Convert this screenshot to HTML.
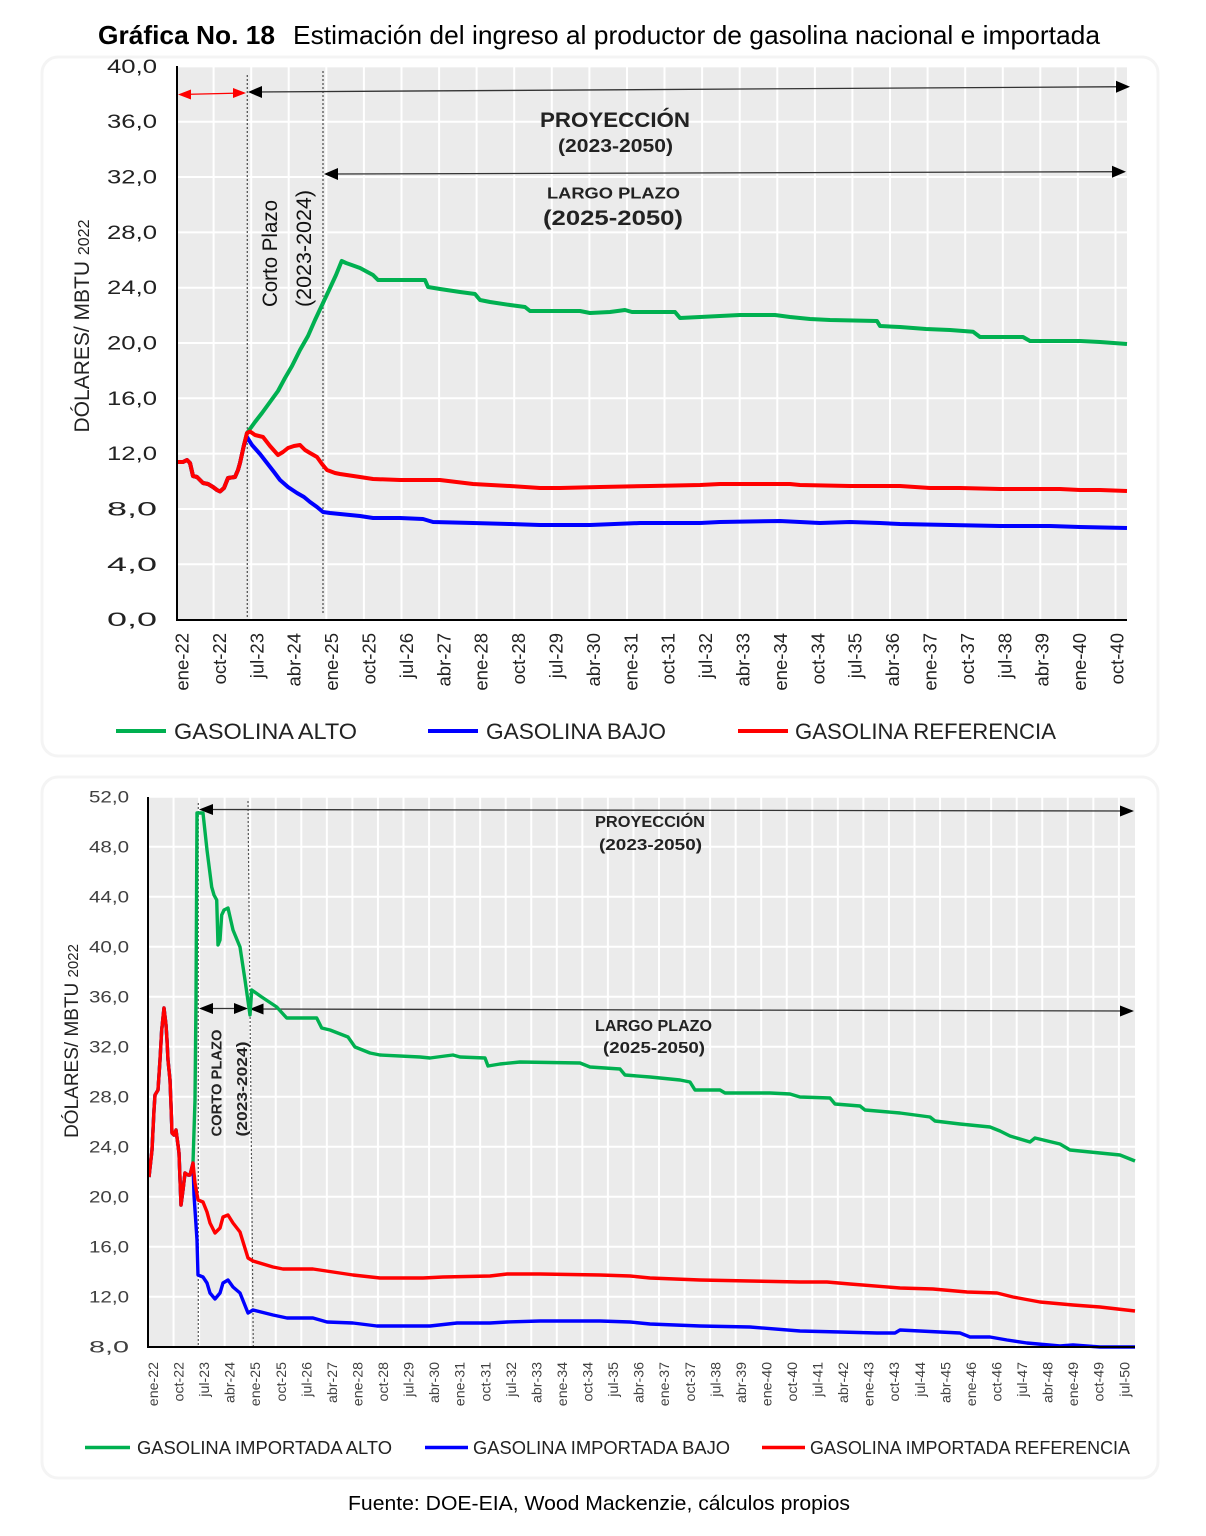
<!DOCTYPE html>
<html><head><meta charset="utf-8"><style>
html,body{margin:0;padding:0;background:#fff;}
svg{display:block;}
text{font-family:"Liberation Sans",Arial,sans-serif;}
</style></head><body>
<svg width="1206" height="1536" viewBox="0 0 1206 1536" xmlns="http://www.w3.org/2000/svg">
<rect width="1206" height="1536" fill="#fff"/>
<!-- Title -->
<text x="98" y="44" font-size="26" font-weight="bold" fill="#000" textLength="177" lengthAdjust="spacingAndGlyphs">Gráfica No. 18</text>
<text x="293" y="44" font-size="26" fill="#000" textLength="807" lengthAdjust="spacingAndGlyphs">Estimación del ingreso al productor de gasolina nacional e importada</text>

<!-- Frames -->
<rect x="42" y="57" width="1116" height="699" rx="16" fill="#fff" stroke="#f4f4f4" stroke-width="3"/>
<rect x="42" y="777" width="1116" height="701" rx="16" fill="#fff" stroke="#f4f4f4" stroke-width="3"/>

<!-- ================= TOP CHART ================= -->
<rect x="177" y="66" width="950" height="554" fill="#ebebeb"/>
<path d="M177 564.3H1127M177 509H1127M177 453.6H1127M177 398.3H1127M177 343H1127M177 287.7H1127M177 232.4H1127M177 177H1127M177 121.7H1127M177 66.4H1127" stroke="#fff" stroke-width="2"/>
<path d="M213.6 66V620M251.2 66V620M288.7 66V620M326.3 66V620M363.9 66V620M401.5 66V620M439.1 66V620M476.6 66V620M514.2 66V620M551.8 66V620M589.4 66V620M627 66V620M664.5 66V620M702.1 66V620M739.7 66V620M777.3 66V620M814.9 66V620M852.4 66V620M890 66V620M927.6 66V620M965.2 66V620M1002.8 66V620M1040.3 66V620M1077.9 66V620M1115.5 66V620" stroke="#fff" stroke-width="2"/>

<!-- dotted lines -->
<line x1="247.3" y1="75" x2="247.3" y2="618" stroke="#555" stroke-width="1.3" stroke-dasharray="2,2"/>
<line x1="323" y1="71" x2="323" y2="613" stroke="#555" stroke-width="1.3" stroke-dasharray="2,2"/>

<!-- arrows -->
<line x1="180" y1="94.5" x2="244" y2="93" stroke="#ff0000" stroke-width="1.3"/>
<polygon points="178,94.5 191,89.5 191,99.5" fill="#ff0000"/>
<polygon points="246,93 233,88 233,98" fill="#ff0000"/>
<line x1="250" y1="92" x2="1128" y2="86.7" stroke="#333" stroke-width="1.3"/>
<polygon points="248,92 262,86 262,98" fill="#000"/>
<polygon points="1130,86.7 1116,80.7 1116,92.7" fill="#000"/>
<line x1="326" y1="174" x2="1124" y2="171.7" stroke="#333" stroke-width="1.3"/>
<polygon points="324,174 338,168 338,180" fill="#000"/>
<polygon points="1126,171.7 1112,165.7 1112,177.7" fill="#000"/>

<!-- annotation text -->
<text x="615" y="127" font-size="21" font-weight="bold" fill="#222" text-anchor="middle" textLength="150" lengthAdjust="spacingAndGlyphs">PROYECCIÓN</text>
<text x="615.5" y="152" font-size="18" font-weight="bold" fill="#222" text-anchor="middle" textLength="115" lengthAdjust="spacingAndGlyphs">(2023-2050)</text>
<text x="613.5" y="198.5" font-size="16" font-weight="bold" fill="#222" text-anchor="middle" textLength="133" lengthAdjust="spacingAndGlyphs">LARGO PLAZO</text>
<text x="613" y="225" font-size="21" font-weight="bold" fill="#222" text-anchor="middle" textLength="140" lengthAdjust="spacingAndGlyphs">(2025-2050)</text>
<text transform="translate(277,253.5) rotate(-90)" font-size="21" fill="#111" text-anchor="middle" textLength="107" lengthAdjust="spacingAndGlyphs">Corto Plazo</text>
<text transform="translate(311,248.5) rotate(-90)" font-size="21" fill="#111" text-anchor="middle" textLength="117" lengthAdjust="spacingAndGlyphs">(2023-2024)</text>

<!-- series -->
<polyline fill="none" stroke="#00b050" stroke-width="4" stroke-linejoin="round" points="177,462 183,462 187,460 190,463 193,476 197,477 200,480 203,483 208,484 213,487 217,490 220,491.5 224,488 228,478 235,477 238,470 240,463 244,445 247,433 255,422 262,413 270,402 278,391 285,378 292,366 300,350 308,336 315,320 323,303 330,288 336,275 341.7,261 346,263 351.7,265 360,268 373,275 378,280 425,280 428,287 440,289 460,292 475,294 480,300 490,302 510,305 525,307 530,311 580,311 590,313 610,312 625,310 632,312 675,312 680,318 700,317 740,315 775,315 790,317 810,319 830,320 877,321 880,326 900,327 926,329 950,330 973,331.7 980,337 1023,337 1030,341 1080,341 1100,342 1127,344"/>
<polyline fill="none" stroke="#0000ff" stroke-width="4" stroke-linejoin="round" points="177,462 183,462 187,460 190,463 193,476 197,477 200,480 203,483 208,484 213,487 217,490 220,491.5 224,488 228,478 235,477 238,470 240,463 244,445 247,437 252,445 260,454 267,463 274,472 280,480 288,487 297,493 304,497 310,502 317,507 323,512 330,513 340,514 360,516 373,518 400,518 423,519 433,522 473,523 510,524 540,525 590,525 640,523 700,523 720,522 780,521 800,522 820,523 850,522 880,523 900,524 950,525 1000,526 1050,526 1080,527 1127,528"/>
<polyline fill="none" stroke="#ff0000" stroke-width="4" stroke-linejoin="round" points="177,462 183,462 187,460 190,463 193,476 197,477 200,480 203,483 208,484 213,487 217,490 220,491.5 224,488 228,478 235,477 238,470 240,463 244,445 247,433 250,431.5 255,435 263,437 270,446 278,455 283,452 288,448 294,446 300,445 305,450 310,453 317,457 322,464 327,470 335,473 340,474 360,477 373,479 400,480 440,480 473,484 510,486 540,488 560,488 600,487 650,486 700,485 720,484 790,484 800,485 850,486 900,486 930,488 960,488 1000,489 1060,489 1080,490 1100,490 1127,491"/>

<!-- axes -->
<line x1="177" y1="66" x2="177" y2="621" stroke="#000" stroke-width="2"/>
<line x1="176" y1="620" x2="1127" y2="620" stroke="#000" stroke-width="2"/>

<!-- y ticks -->
<g font-size="19" fill="#222" text-anchor="end">
<text x="157" y="626" textLength="50" lengthAdjust="spacingAndGlyphs">0,0</text>
<text x="157" y="570.8" textLength="50" lengthAdjust="spacingAndGlyphs">4,0</text>
<text x="157" y="515.5" textLength="50" lengthAdjust="spacingAndGlyphs">8,0</text>
<text x="157" y="460.1" textLength="50" lengthAdjust="spacingAndGlyphs">12,0</text>
<text x="157" y="404.8" textLength="50" lengthAdjust="spacingAndGlyphs">16,0</text>
<text x="157" y="349.5" textLength="50" lengthAdjust="spacingAndGlyphs">20,0</text>
<text x="157" y="294.2" textLength="50" lengthAdjust="spacingAndGlyphs">24,0</text>
<text x="157" y="238.9" textLength="50" lengthAdjust="spacingAndGlyphs">28,0</text>
<text x="157" y="183.5" textLength="50" lengthAdjust="spacingAndGlyphs">32,0</text>
<text x="157" y="128.2" textLength="50" lengthAdjust="spacingAndGlyphs">36,0</text>
<text x="157" y="72.9" textLength="50" lengthAdjust="spacingAndGlyphs">40,0</text>
</g>
<text x="0" y="0" transform="translate(89,326) rotate(-90)" font-size="21" fill="#222" text-anchor="middle">DÓLARES/ MBTU <tspan font-size="16">2022</tspan></text>

<!-- x ticks -->
<g font-size="18.5" fill="#222" text-anchor="end">
<text transform="translate(188.5,633) rotate(-90)">ene-22</text>
<text transform="translate(225.9,633) rotate(-90)">oct-22</text>
<text transform="translate(263.3,633) rotate(-90)">jul-23</text>
<text transform="translate(300.7,633) rotate(-90)">abr-24</text>
<text transform="translate(338.1,633) rotate(-90)">ene-25</text>
<text transform="translate(375.5,633) rotate(-90)">oct-25</text>
<text transform="translate(412.9,633) rotate(-90)">jul-26</text>
<text transform="translate(450.3,633) rotate(-90)">abr-27</text>
<text transform="translate(487.7,633) rotate(-90)">ene-28</text>
<text transform="translate(525.1,633) rotate(-90)">oct-28</text>
<text transform="translate(562.5,633) rotate(-90)">jul-29</text>
<text transform="translate(599.9,633) rotate(-90)">abr-30</text>
<text transform="translate(637.3,633) rotate(-90)">ene-31</text>
<text transform="translate(674.7,633) rotate(-90)">oct-31</text>
<text transform="translate(712.1,633) rotate(-90)">jul-32</text>
<text transform="translate(749.5,633) rotate(-90)">abr-33</text>
<text transform="translate(786.9,633) rotate(-90)">ene-34</text>
<text transform="translate(824.3,633) rotate(-90)">oct-34</text>
<text transform="translate(861.7,633) rotate(-90)">jul-35</text>
<text transform="translate(899.1,633) rotate(-90)">abr-36</text>
<text transform="translate(936.5,633) rotate(-90)">ene-37</text>
<text transform="translate(973.9,633) rotate(-90)">oct-37</text>
<text transform="translate(1011.3,633) rotate(-90)">jul-38</text>
<text transform="translate(1048.7,633) rotate(-90)">abr-39</text>
<text transform="translate(1086.1,633) rotate(-90)">ene-40</text>
<text transform="translate(1123.5,633) rotate(-90)">oct-40</text>
</g>

<!-- legend top -->
<line x1="116" y1="731" x2="166" y2="731" stroke="#00b050" stroke-width="4"/>
<text x="174" y="739" font-size="22" fill="#222" textLength="183" lengthAdjust="spacingAndGlyphs">GASOLINA ALTO</text>
<line x1="428" y1="731" x2="478" y2="731" stroke="#0000ff" stroke-width="4"/>
<text x="486" y="739" font-size="22" fill="#222" textLength="180" lengthAdjust="spacingAndGlyphs">GASOLINA BAJO</text>
<line x1="738" y1="731" x2="788" y2="731" stroke="#ff0000" stroke-width="4"/>
<text x="795" y="739" font-size="22" fill="#222" textLength="261" lengthAdjust="spacingAndGlyphs">GASOLINA REFERENCIA</text>

<!-- ================= BOTTOM CHART ================= -->
<rect x="148" y="797" width="987" height="550" fill="#ebebeb"/>
<path d="M148 1296.7H1135M148 1246.7H1135M148 1196.7H1135M148 1146.7H1135M148 1096.7H1135M148 1046.7H1135M148 996.7H1135M148 946.7H1135M148 896.7H1135M148 846.7H1135M148 796.7H1135" stroke="#fff" stroke-width="2"/>
<path d="M173.55 797V1347M199.1 797V1347M224.65 797V1347M250.2 797V1347M275.75 797V1347M301.3 797V1347M326.85 797V1347M352.4 797V1347M377.95 797V1347M403.5 797V1347M429.05 797V1347M454.6 797V1347M480.15 797V1347M505.7 797V1347M531.25 797V1347M556.8 797V1347M582.35 797V1347M607.9 797V1347M633.45 797V1347M659 797V1347M684.55 797V1347M710.1 797V1347M735.65 797V1347M761.2 797V1347M786.75 797V1347M812.3 797V1347M837.85 797V1347M863.4 797V1347M888.95 797V1347M914.5 797V1347M940.05 797V1347M965.6 797V1347M991.15 797V1347M1016.7 797V1347M1042.25 797V1347M1067.8 797V1347M1093.35 797V1347M1118.9 797V1347" stroke="#fff" stroke-width="2"/>

<line x1="198.3" y1="803" x2="198.3" y2="1347" stroke="#555" stroke-width="1.2" stroke-dasharray="2,2"/>
<line x1="248" y1="801" x2="253.3" y2="1347" stroke="#555" stroke-width="1.2" stroke-dasharray="2,2"/>

<!-- arrows bottom -->
<line x1="201" y1="809.5" x2="1131" y2="811" stroke="#333" stroke-width="1.3"/>
<polygon points="199,809.5 213,804 213,815" fill="#000"/>
<polygon points="1134,811 1120,805.5 1120,816.5" fill="#000"/>
<line x1="201" y1="1008.5" x2="246" y2="1008.5" stroke="#333" stroke-width="1.3"/>
<polygon points="199,1008.5 213,1003 213,1014" fill="#000"/>
<polygon points="248,1008.5 234,1003 234,1014" fill="#000"/>
<line x1="251" y1="1009" x2="1131" y2="1011" stroke="#333" stroke-width="1.3"/>
<polygon points="249.5,1009 263.5,1003.5 263.5,1014.5" fill="#000"/>
<polygon points="1134,1011 1120,1005.5 1120,1016.5" fill="#000"/>

<text x="650" y="827" font-size="16" font-weight="bold" fill="#222" text-anchor="middle" textLength="110" lengthAdjust="spacingAndGlyphs">PROYECCIÓN</text>
<text x="650.5" y="850" font-size="16" font-weight="bold" fill="#222" text-anchor="middle" textLength="103" lengthAdjust="spacingAndGlyphs">(2023-2050)</text>
<text x="653.5" y="1031" font-size="16" font-weight="bold" fill="#222" text-anchor="middle" textLength="117" lengthAdjust="spacingAndGlyphs">LARGO PLAZO</text>
<text x="654" y="1053" font-size="16" font-weight="bold" fill="#222" text-anchor="middle" textLength="102" lengthAdjust="spacingAndGlyphs">(2025-2050)</text>
<text transform="translate(221.5,1083) rotate(-90)" font-size="15" font-weight="bold" fill="#222" text-anchor="middle" textLength="107" lengthAdjust="spacingAndGlyphs">CORTO PLAZO</text>
<text transform="translate(247,1089) rotate(-90)" font-size="15" font-weight="bold" fill="#222" text-anchor="middle" textLength="95" lengthAdjust="spacingAndGlyphs">(2023-2024)</text>

<!-- series bottom -->
<polyline fill="none" stroke="#00b050" stroke-width="3.4" stroke-linejoin="round" points="149,1177 152,1150 154,1110 155,1095 158,1090 160,1060 161.7,1030 164,1008 166,1025 167,1040 168,1060 170,1080 171,1105 172,1133 174,1135 176,1130 178,1145 179,1153 181,1205 183,1190 185,1173 188,1175 190,1175 193,1163 195,1100 196,1000 197,813 203,813 207,850 211.7,887 214,895 216.7,900 218,945 220,940 221.7,915 224,910 228,908 233,930 240,947 245,980 250,1015 251.7,990 261.7,997 276.7,1007 286.7,1018 316.7,1018 321.7,1028 330,1030 348,1037 355,1047 370,1053 380,1055 420,1057 430,1058 445,1056 453,1055 460,1057 485,1058 488,1066 500,1064 520,1062 580,1063 590,1067 620,1069 625,1075 650,1077 680,1080 690,1082 695,1090 720,1090 725,1093 770,1093 790,1094 800,1097 830,1098 835,1104 860,1106 865,1110 900,1113 930,1117 935,1121 960,1124 990,1127 1000,1131 1010,1136 1030,1142 1035,1138 1060,1144 1070,1150 1100,1153 1120,1155 1135,1161"/>
<polyline fill="none" stroke="#0000ff" stroke-width="3.4" stroke-linejoin="round" points="149,1177 152,1150 154,1110 155,1095 158,1090 160,1060 161.7,1030 164,1008 166,1025 167,1040 168,1060 170,1080 171,1105 172,1133 174,1135 176,1130 178,1145 179,1153 181,1205 183,1190 185,1173 188,1175 190,1175 193,1163 194,1195 197,1240 198,1275 203,1277 207,1283 210,1293 215,1299 220,1293 223,1283 228,1280 233,1287 240,1293 244,1303 248,1313 253,1310 273,1315 287,1318 313,1318 327,1322 353,1323 377,1326 430,1326 457,1323 490,1323 507,1322 540,1321 600,1321 630,1322 650,1324 700,1326 750,1327 800,1331 840,1332 877,1333 895,1333 900,1330 940,1332 960,1333 970,1337 990,1337 1007,1340 1027,1343 1060,1346 1073,1345 1100,1347 1135,1347"/>
<polyline fill="none" stroke="#ff0000" stroke-width="3.4" stroke-linejoin="round" points="149,1177 152,1150 154,1110 155,1095 158,1090 160,1060 161.7,1030 164,1008 166,1025 167,1040 168,1060 170,1080 171,1105 172,1133 174,1135 176,1130 178,1145 179,1153 181,1205 183,1190 185,1173 188,1175 190,1175 193,1163 195,1183 198,1200 203,1202 207,1212 210,1223 215,1233 220,1228 223,1217 228,1215 233,1223 240,1232 244,1245 248,1258 253,1261 273,1267 283,1269 313,1269 333,1272 353,1275 380,1278 423,1278 443,1277 490,1276 507,1274 540,1274 600,1275 630,1276 650,1278 700,1280 750,1281 800,1282 827,1282 850,1284 900,1288 933,1289 967,1292 997,1293 1013,1297 1040,1302 1073,1305 1100,1307 1135,1311"/>

<line x1="148" y1="797" x2="148" y2="1348" stroke="#000" stroke-width="2"/>
<line x1="147" y1="1347" x2="1135" y2="1347" stroke="#000" stroke-width="2"/>

<g font-size="17" fill="#404040" text-anchor="end">
<text x="129" y="1352.7" textLength="40" lengthAdjust="spacingAndGlyphs">8,0</text>
<text x="129" y="1302.7" textLength="40" lengthAdjust="spacingAndGlyphs">12,0</text>
<text x="129" y="1252.7" textLength="40" lengthAdjust="spacingAndGlyphs">16,0</text>
<text x="129" y="1202.7" textLength="40" lengthAdjust="spacingAndGlyphs">20,0</text>
<text x="129" y="1152.7" textLength="40" lengthAdjust="spacingAndGlyphs">24,0</text>
<text x="129" y="1102.7" textLength="40" lengthAdjust="spacingAndGlyphs">28,0</text>
<text x="129" y="1052.7" textLength="40" lengthAdjust="spacingAndGlyphs">32,0</text>
<text x="129" y="1002.7" textLength="40" lengthAdjust="spacingAndGlyphs">36,0</text>
<text x="129" y="952.7" textLength="40" lengthAdjust="spacingAndGlyphs">40,0</text>
<text x="129" y="902.7" textLength="40" lengthAdjust="spacingAndGlyphs">44,0</text>
<text x="129" y="852.7" textLength="40" lengthAdjust="spacingAndGlyphs">48,0</text>
<text x="129" y="802.7" textLength="40" lengthAdjust="spacingAndGlyphs">52,0</text>
</g>
<text transform="translate(78,1041) rotate(-90)" font-size="19" fill="#222" text-anchor="middle">DÓLARES/ MBTU <tspan font-size="15">2022</tspan></text>

<g font-size="14.2" fill="#404040" text-anchor="end">
<text transform="translate(158,1362) rotate(-90)">ene-22</text>
<text transform="translate(183.6,1362) rotate(-90)">oct-22</text>
<text transform="translate(209.1,1362) rotate(-90)">jul-23</text>
<text transform="translate(234.7,1362) rotate(-90)">abr-24</text>
<text transform="translate(260.2,1362) rotate(-90)">ene-25</text>
<text transform="translate(285.8,1362) rotate(-90)">oct-25</text>
<text transform="translate(311.4,1362) rotate(-90)">jul-26</text>
<text transform="translate(336.9,1362) rotate(-90)">abr-27</text>
<text transform="translate(362.5,1362) rotate(-90)">ene-28</text>
<text transform="translate(388,1362) rotate(-90)">oct-28</text>
<text transform="translate(413.6,1362) rotate(-90)">jul-29</text>
<text transform="translate(439.2,1362) rotate(-90)">abr-30</text>
<text transform="translate(464.7,1362) rotate(-90)">ene-31</text>
<text transform="translate(490.3,1362) rotate(-90)">oct-31</text>
<text transform="translate(515.8,1362) rotate(-90)">jul-32</text>
<text transform="translate(541.4,1362) rotate(-90)">abr-33</text>
<text transform="translate(567,1362) rotate(-90)">ene-34</text>
<text transform="translate(592.5,1362) rotate(-90)">oct-34</text>
<text transform="translate(618.1,1362) rotate(-90)">jul-35</text>
<text transform="translate(643.6,1362) rotate(-90)">abr-36</text>
<text transform="translate(669.2,1362) rotate(-90)">ene-37</text>
<text transform="translate(694.8,1362) rotate(-90)">oct-37</text>
<text transform="translate(720.3,1362) rotate(-90)">jul-38</text>
<text transform="translate(745.9,1362) rotate(-90)">abr-39</text>
<text transform="translate(771.4,1362) rotate(-90)">ene-40</text>
<text transform="translate(797,1362) rotate(-90)">oct-40</text>
<text transform="translate(822.6,1362) rotate(-90)">jul-41</text>
<text transform="translate(848.1,1362) rotate(-90)">abr-42</text>
<text transform="translate(873.7,1362) rotate(-90)">ene-43</text>
<text transform="translate(899.2,1362) rotate(-90)">oct-43</text>
<text transform="translate(924.8,1362) rotate(-90)">jul-44</text>
<text transform="translate(950.4,1362) rotate(-90)">abr-45</text>
<text transform="translate(975.9,1362) rotate(-90)">ene-46</text>
<text transform="translate(1001.5,1362) rotate(-90)">oct-46</text>
<text transform="translate(1027,1362) rotate(-90)">jul-47</text>
<text transform="translate(1052.6,1362) rotate(-90)">abr-48</text>
<text transform="translate(1078.2,1362) rotate(-90)">ene-49</text>
<text transform="translate(1103.7,1362) rotate(-90)">oct-49</text>
<text transform="translate(1129.3,1362) rotate(-90)">jul-50</text>
</g>

<!-- legend bottom -->
<line x1="85" y1="1447.5" x2="130" y2="1447.5" stroke="#00b050" stroke-width="3.5"/>
<text x="137" y="1454" font-size="18" fill="#222" textLength="255" lengthAdjust="spacingAndGlyphs">GASOLINA IMPORTADA ALTO</text>
<line x1="425" y1="1447.5" x2="468" y2="1447.5" stroke="#0000ff" stroke-width="3.5"/>
<text x="473" y="1454" font-size="18" fill="#222" textLength="257" lengthAdjust="spacingAndGlyphs">GASOLINA IMPORTADA BAJO</text>
<line x1="762" y1="1447.5" x2="805" y2="1447.5" stroke="#ff0000" stroke-width="3.5"/>
<text x="810" y="1454" font-size="18" fill="#222" textLength="320" lengthAdjust="spacingAndGlyphs">GASOLINA IMPORTADA REFERENCIA</text>

<!-- footer -->
<text x="348" y="1510" font-size="20" fill="#000" textLength="502" lengthAdjust="spacingAndGlyphs">Fuente: DOE-EIA, Wood Mackenzie, cálculos propios</text>
</svg>
</body></html>
